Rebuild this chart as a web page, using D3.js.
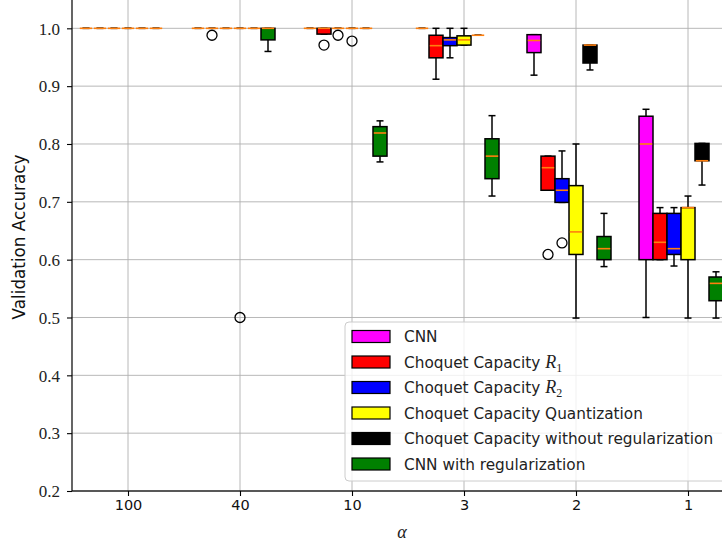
<!DOCTYPE html>
<html>
<head>
<meta charset="utf-8">
<script src="https://cdn.jsdelivr.net/npm/d3@7"></script>
<style>
  body { margin: 0; background: #fff; overflow: hidden; }
  svg { display: block; }
</style>
</head>
<body>
<svg id="chart"></svg>
<script>
// alpha groups on the x axis
const alphas = ['100', '40', '10', '3', '2', '1'];
const yTicks = [0.2, 0.3, 0.4, 0.5, 0.6, 0.7, 0.8, 0.9, 1.0];

// per alpha: [whisker low, q1, median, q3, whisker high]
const cnn = [
  [1, 1, 1, 1, 1], [1, 1, 1, 1, 1], [1, 1, 1, 1, 1], [1, 1, 1, 1, 1],
  [0.919, 0.958, 0.979, 0.989, 0.989], [0.50, 0.60, 0.80, 0.848, 0.86]
];
const choquetR1 = [
  [1, 1, 1, 1, 1], [1, 1, 1, 1, 1], [0.99, 0.99, 1.0, 1.0, 1.0],
  [0.912, 0.949, 0.970, 0.988, 1.0], [0.72, 0.72, 0.759, 0.779, 0.779], [0.60, 0.60, 0.63, 0.68, 0.69]
];
const choquetR2 = [
  [1, 1, 1, 1, 1], [1, 1, 1, 1, 1], [1, 1, 1, 1, 1],
  [0.949, 0.970, 0.980, 0.984, 1.0], [0.699, 0.699, 0.72, 0.74, 0.788], [0.589, 0.609, 0.619, 0.68, 0.69]
];
const choquetQuant = [
  [1, 1, 1, 1, 1], [1, 1, 1, 1, 1], [1, 1, 1, 1, 1],
  [0.971, 0.971, 0.98, 0.987, 1.0], [0.499, 0.609, 0.648, 0.728, 0.80], [0.499, 0.60, 0.69, 0.69, 0.71]
];
const choquetNoReg = [
  [1, 1, 1, 1, 1], [1, 1, 1, 1, 1], [1, 1, 1, 1, 1],
  [0.988, 0.988, 0.988, 0.988, 0.988], [0.928, 0.94, 0.971, 0.971, 0.971], [0.729, 0.771, 0.771, 0.801, 0.801]
];
const cnnReg = [
  [1, 1, 1, 1, 1], [0.96, 0.98, 1.0, 1.0, 1.0], [0.769, 0.779, 0.819, 0.830, 0.840],
  [0.71, 0.74, 0.779, 0.809, 0.849], [0.588, 0.60, 0.619, 0.64, 0.68], [0.499, 0.529, 0.559, 0.57, 0.579]
];

// outliers: [alpha index, value]
const cnnOut = [];
const choquetR1Out = [[1, 0.988], [2, 0.971], [4, 0.609]];
const choquetR2Out = [[2, 0.988], [4, 0.629]];
const choquetQuantOut = [[1, 0.50], [2, 0.978]];
const choquetNoRegOut = [];
const cnnRegOut = [];

const seriesNames = ['CNN', 'Choquet Capacity R1', 'Choquet Capacity R2',
  'Choquet Capacity Quantization', 'Choquet Capacity without regularization', 'CNN with regularization'];
const seriesColors = ['#ff00ff', '#ff0000', '#0000ff', '#ffff00', '#000000', '#008000'];

const series = [
  {stats: cnn, out: cnnOut}, {stats: choquetR1, out: choquetR1Out}, {stats: choquetR2, out: choquetR2Out},
  {stats: choquetQuant, out: choquetQuantOut}, {stats: choquetNoReg, out: choquetNoRegOut}, {stats: cnnReg, out: cnnRegOut}
];

let svg = d3.select('#chart')
    .attr('width', 722)
    .attr('height', 547),
  margin = {top: -0.6, left: 72, bottom: 491},
  g = svg.append('g');

let xScale = d3.scaleLinear()
  .domain([-0.5, 5.5])
  .range([margin.left, margin.left + 672]);

let yScale = d3.scaleLinear()
  .domain([0.2, 1.05])
  .range([margin.bottom, margin.top]);

const boxW = 0.125;

// grid first, boxes go on top of it
g.append('g')
  .selectAll('line.vg')
  .data(alphas)
  .join('line')
  .attr('x1', (d, i) => xScale(i)).attr('x2', (d, i) => xScale(i))
  .attr('y1', yScale(0.2)).attr('y2', yScale(1.05))
  .attr('stroke', '#b0b0b0').attr('stroke-width', 0.9);

g.append('g')
  .selectAll('line.hg')
  .data(yTicks)
  .join('line')
  .attr('x1', xScale(-0.5)).attr('x2', xScale(5.5))
  .attr('y1', d => yScale(d)).attr('y2', d => yScale(d))
  .attr('stroke', '#b0b0b0').attr('stroke-width', 0.9);

let rows = series.flatMap((s, j) => s.stats.map((st, i) => ({j: j, i: i, st: st})));
let cx = d => xScale(d.i + (d.j - 3) * boxW);
let half = (xScale(boxW) - xScale(0)) / 2;

let boxes = g.append('g').selectAll('g').data(rows).join('g');

// whiskers
boxes.append('line')
  .attr('x1', cx).attr('x2', cx)
  .attr('y1', d => yScale(d.st[0])).attr('y2', d => yScale(d.st[1]))
  .attr('stroke', '#000').attr('stroke-width', 1.5);
boxes.append('line')
  .attr('x1', cx).attr('x2', cx)
  .attr('y1', d => yScale(d.st[3])).attr('y2', d => yScale(d.st[4]))
  .attr('stroke', '#000').attr('stroke-width', 1.5);

// caps
[0, 4].forEach(k => {
  boxes.append('line')
    .attr('x1', d => cx(d) - half / 2).attr('x2', d => cx(d) + half / 2)
    .attr('y1', d => yScale(d.st[k])).attr('y2', d => yScale(d.st[k]))
    .attr('stroke', '#000').attr('stroke-width', 1.5);
});

boxes.append('rect')
  .attr('x', d => cx(d) - half)
  .attr('width', half * 2)
  .attr('y', d => yScale(d.st[3]))
  .attr('height', d => yScale(d.st[1]) - yScale(d.st[3]))
  .attr('fill', d => seriesColors[d.j])
  .attr('stroke', '#000')
  .attr('stroke-width', 1.5);

// medians
boxes.append('line')
  .attr('x1', d => cx(d) - half + 0.8).attr('x2', d => cx(d) + half - 0.8)
  .attr('y1', d => yScale(d.st[2])).attr('y2', d => yScale(d.st[2]))
  .attr('stroke', '#ff7f0e').attr('stroke-width', 1.6);

// fliers
let fliers = series.flatMap((s, j) => s.out.map(o => ({j: j, i: o[0], v: o[1]})));
g.append('g')
  .selectAll('circle')
  .data(fliers)
  .join('circle')
  .attr('cx', cx)
  .attr('cy', d => yScale(d.v))
  .attr('r', 5)
  .attr('fill', 'none')
  .attr('stroke', '#000')
  .attr('stroke-width', 1.3);

// frame
g.append('rect')
  .attr('x', xScale(-0.5)).attr('y', yScale(1.05))
  .attr('width', xScale(5.5) - xScale(-0.5))
  .attr('height', yScale(0.2) - yScale(1.05))
  .attr('fill', 'none').attr('stroke', '#000').attr('stroke-width', 1.2);

// axes
let xAxis = d3.axisBottom(xScale)
  .tickValues(d3.range(alphas.length))
  .tickFormat(i => alphas[i])
  .tickSizeOuter(0)
  .tickSize(5);

let xg = g.append('g')
  .attr('transform', 'translate(0,' + yScale(0.2) + ')')
  .call(xAxis);
xg.select('.domain').remove();
xg.selectAll('line').attr('stroke-width', 1.1);
xg.selectAll('text')
  .attr('y', 9)
  .attr('dy', '0.71em')
  .style('font-family', 'DejaVu Sans')
  .style('font-size', '14.5px')
  .attr('fill', '#111');

let yg = g.append('g')
  .attr('transform', 'translate(' + xScale(-0.5) + ',0)')
  .call(d3.axisLeft(yScale).tickValues(yTicks).tickFormat(d3.format('.1f')).tickSize(5).tickSizeOuter(0));
yg.select('.domain').remove();
yg.selectAll('line').attr('stroke-width', 1.1);
yg.selectAll('text')
  .attr('x', -12)
  .attr('dy', '0.34em')
  .style('font-family', 'Liberation Serif')
  .style('font-size', '17px')
  .attr('fill', '#222');

svg.append('text')
  .attr('transform', 'translate(25,237) rotate(-90)')
  .attr('text-anchor', 'middle')
  .style('font-family', 'DejaVu Sans')
  .style('font-size', '16.8px')
  .attr('fill', '#111')
  .text('Validation Accuracy');

svg.append('text')
  .attr('x', 402).attr('y', 538)
  .attr('text-anchor', 'middle')
  .style('font-family', 'Liberation Serif')
  .style('font-style', 'italic')
  .style('font-size', '18px')
  .attr('fill', '#222')
  .text('α');

// legend
let lg = svg.append('g');
lg.append('rect')
  .attr('x', 345).attr('y', 322)
  .attr('width', 400).attr('height', 159)
  .attr('rx', 4)
  .attr('fill', '#fff').attr('fill-opacity', 0.8)
  .attr('stroke', '#cccccc').attr('stroke-width', 1);

let items = lg.selectAll('g.item')
  .data(seriesNames)
  .join('g')
  .attr('transform', (d, i) => 'translate(352,' + (336.5 + i * 25.5) + ')');

items.append('rect')
  .attr('x', 0).attr('y', -6)
  .attr('width', 38).attr('height', 12)
  .attr('fill', (d, i) => seriesColors[i])
  .attr('stroke', '#000').attr('stroke-width', 1.2);

let labels = items.append('text')
  .attr('x', 52).attr('y', 5.5)
  .style('font-family', 'DejaVu Sans')
  .style('font-size', '15.3px')
  .attr('fill', '#222');

labels.each(function(d) {
  let t = d3.select(this);
  let m = d.match(/^(.*) R(\d)$/);
  if (!m) { t.text(d); return; }
  t.append('tspan').text(m[1] + ' ');
  t.append('tspan')
    .style('font-family', 'Liberation Serif').style('font-style', 'italic').style('font-size', '18px')
    .text('R');
  t.append('tspan')
    .attr('dy', 4)
    .style('font-family', 'Liberation Serif').style('font-size', '12px')
    .text(m[2]);
});
</script>
</body>
</html>
